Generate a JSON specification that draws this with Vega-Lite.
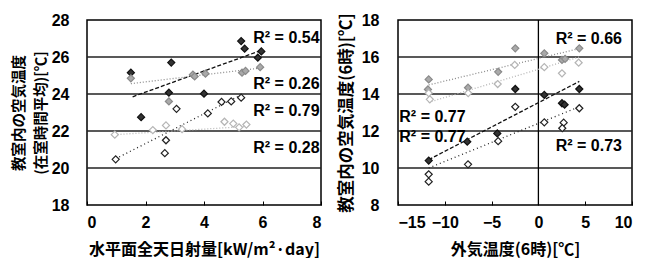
{
  "$schema": "https://vega.github.io/schema/vega-lite/v6.json",
  "padding": {"left": 10, "top": 11, "right": 0, "bottom": 0},
  "background": "white",
  "bounds": "flush",
  "spacing": 77,
  "config": {
    "view": {"stroke": "#000", "strokeWidth": 1.5},
    "font": "Liberation Sans",
    "axis": {
      "labelFont": "Liberation Sans", "labelFontSize": 16, "labelFontWeight": "bold", "labelColor": "#000", "labelOverlap": false,
      "titleFont": "Noto Sans CJK JP", "titleFontSize": 16, "titleFontWeight": "bold", "titleColor": "#000",
      "domain": false, "tickColor": "#000", "tickCount": 12, "format": "d"
    }
  },
  "datasets": {
    "lp": [
      {"x": 1.5, "y": 25.15, "s": "A"}, {"x": 2.88, "y": 25.7, "s": "A"}, {"x": 2.8, "y": 24.07, "s": "A"}, {"x": 4.0, "y": 24.02, "s": "A"}, {"x": 1.85, "y": 22.75, "s": "A"}, {"x": 5.27, "y": 26.86, "s": "A"}, {"x": 5.39, "y": 26.45, "s": "A"}, {"x": 5.96, "y": 26.3, "s": "A"}, {"x": 5.84, "y": 25.96, "s": "A"},
      {"x": 1.5, "y": 24.85, "s": "B"}, {"x": 2.8, "y": 23.6, "s": "B"}, {"x": 3.62, "y": 25.05, "s": "B"}, {"x": 3.68, "y": 24.95, "s": "B"}, {"x": 4.05, "y": 25.1, "s": "B"}, {"x": 5.3, "y": 25.15, "s": "B"}, {"x": 5.42, "y": 25.25, "s": "B"}, {"x": 5.92, "y": 25.45, "s": "B"},
      {"x": 0.98, "y": 20.47, "s": "C"}, {"x": 2.7, "y": 21.5, "s": "C"}, {"x": 2.66, "y": 20.8, "s": "C"}, {"x": 3.06, "y": 23.2, "s": "C"}, {"x": 4.13, "y": 22.95, "s": "C"}, {"x": 4.6, "y": 23.57, "s": "C"}, {"x": 4.93, "y": 23.6, "s": "C"}, {"x": 5.27, "y": 23.8, "s": "C"},
      {"x": 0.95, "y": 21.8, "s": "D"}, {"x": 2.25, "y": 22.05, "s": "D"}, {"x": 2.7, "y": 22.3, "s": "D"}, {"x": 3.25, "y": 22.1, "s": "D"}, {"x": 4.7, "y": 22.5, "s": "D"}, {"x": 5.0, "y": 22.4, "s": "D"}, {"x": 5.2, "y": 22.2, "s": "D"}, {"x": 5.45, "y": 22.35, "s": "D"}
    ],
    "lt": [
      {"x": 1.56, "y": 23.85, "s": "A"}, {"x": 5.96, "y": 26.36, "s": "A"},
      {"x": 1.5, "y": 24.56, "s": "B"}, {"x": 5.96, "y": 25.41, "s": "B"},
      {"x": 0.98, "y": 20.5, "s": "C"}, {"x": 5.27, "y": 23.95, "s": "C"},
      {"x": 0.94, "y": 21.8, "s": "D"}, {"x": 5.5, "y": 22.25, "s": "D"}
    ],
    "lg": [{"y": 20}, {"y": 22}, {"y": 24}, {"y": 26}],
    "lr": [
      {"x": 7.95, "y": 27.05, "t": "R² = 0.54"}, {"x": 7.95, "y": 24.55, "t": "R² = 0.26"}, {"x": 7.95, "y": 23.08, "t": "R² = 0.79"}, {"x": 7.95, "y": 21.1, "t": "R² = 0.28"}
    ],
    "rp": [
      {"x": -11.72, "y": 10.4, "s": "A"}, {"x": -7.6, "y": 11.42, "s": "A"}, {"x": -4.39, "y": 11.87, "s": "A"}, {"x": -2.47, "y": 14.27, "s": "A"}, {"x": 0.63, "y": 13.95, "s": "A"}, {"x": 2.52, "y": 13.5, "s": "A"}, {"x": 2.8, "y": 13.42, "s": "A"}, {"x": 4.37, "y": 14.27, "s": "A"},
      {"x": -11.72, "y": 14.79, "s": "B"}, {"x": -11.8, "y": 14.25, "s": "B"}, {"x": -7.52, "y": 14.34, "s": "B"}, {"x": -4.3, "y": 15.2, "s": "B"}, {"x": -2.47, "y": 16.47, "s": "B"}, {"x": 0.63, "y": 16.2, "s": "B"}, {"x": 2.52, "y": 15.84, "s": "B"}, {"x": 2.85, "y": 15.9, "s": "B"}, {"x": 4.37, "y": 16.47, "s": "B"},
      {"x": -11.72, "y": 9.66, "s": "C"}, {"x": -11.72, "y": 9.26, "s": "C"}, {"x": -7.52, "y": 10.2, "s": "C"}, {"x": -4.3, "y": 11.45, "s": "C"}, {"x": -2.47, "y": 13.31, "s": "C"}, {"x": 0.63, "y": 12.47, "s": "C"}, {"x": 2.7, "y": 12.45, "s": "C"}, {"x": 2.55, "y": 12.15, "s": "C"}, {"x": 4.37, "y": 13.23, "s": "C"},
      {"x": -11.6, "y": 13.71, "s": "D"}, {"x": -11.72, "y": 14.05, "s": "D"}, {"x": -7.5, "y": 14.05, "s": "D"}, {"x": -4.35, "y": 14.54, "s": "D"}, {"x": -2.53, "y": 15.57, "s": "D"}, {"x": 0.63, "y": 15.45, "s": "D"}, {"x": 2.52, "y": 15.12, "s": "D"}, {"x": 4.3, "y": 15.69, "s": "D"}
    ],
    "rt": [
      {"x": -11.72, "y": 10.45, "s": "A"}, {"x": 4.37, "y": 14.68, "s": "A"},
      {"x": -11.72, "y": 14.49, "s": "B"}, {"x": 4.49, "y": 16.47, "s": "B"},
      {"x": -11.72, "y": 10.0, "s": "C"}, {"x": 4.37, "y": 13.31, "s": "C"},
      {"x": -11.72, "y": 13.55, "s": "D"}, {"x": 4.37, "y": 16.0, "s": "D"}
    ],
    "rg": [{"y": 10}, {"y": 12}, {"y": 14}, {"y": 16}],
    "rrR": [
      {"x": 8.93, "y": 16.97, "t": "R² = 0.66"}, {"x": 8.93, "y": 11.19, "t": "R² = 0.73"}
    ],
    "rrL": [
      {"x": -14.86, "y": 12.77, "t": "R² = 0.77"}, {"x": -14.86, "y": 11.69, "t": "R² = 0.77"}
    ],
    "zero": [{"x": 0}]
  },
  "hconcat": [
    {
      "width": 234, "height": 185,
      "layer": [
        {
          "data": {"name": "lg"},
          "mark": {"type": "rule", "color": "#222", "strokeWidth": 1.3},
          "encoding": {
            "y": {"field": "y", "type": "quantitative", "scale": {"domain": [18, 28], "nice": false, "zero": false},
              "axis": {"values": [18, 20, 22, 24, 26, 28], "tickCount": 12, "grid": false, "ticks": false, "labelPadding": 18,
                "title": ["教室内の空気温度", "(在室時間平均)[℃]"], "titleFontSize": 14.5, "titlePadding": 3, "titleLineHeight": 22}}
          }
        },
        {
          "data": {"name": "lt"},
          "mark": {"type": "line", "strokeWidth": 1.3},
          "encoding": {
            "x": {"field": "x", "type": "quantitative", "scale": {"domain": [0, 8], "nice": false, "zero": false},
              "axis": {"values": [0, 2, 4, 6, 8], "tickCount": 12, "grid": false, "ticks": true, "tickSize": -4, "labelPadding": 13, "title": "水平面全天日射量[kW/m²·day]", "titlePadding": 11}},
            "y": {"field": "y", "type": "quantitative"},
            "detail": {"field": "s"},
            "stroke": {"field": "s", "type": "nominal", "legend": null, "scale": {"domain": ["A", "B", "C", "D"], "range": ["#111", "#8a8a8a", "#222", "#b5b5b5"]}},
            "strokeDash": {"field": "s", "type": "nominal", "legend": null, "scale": {"domain": ["A", "B", "C", "D"], "range": [[4, 2], [1, 2], [1, 3], [1, 2]]}}
          }
        },
        {
          "data": {"name": "lp"},
          "mark": {"type": "point", "shape": "diamond", "filled": false, "size": 50, "strokeWidth": 1.2, "opacity": 1},
          "encoding": {
            "x": {"field": "x", "type": "quantitative"},
            "y": {"field": "y", "type": "quantitative"},
            "fill": {"field": "s", "type": "nominal", "legend": null, "scale": {"domain": ["A", "B", "C", "D"], "range": ["#333", "#aaa", "#fff", "#fff"]}},
            "stroke": {"field": "s", "type": "nominal", "legend": null}
          }
        },
        {
          "data": {"name": "lr"},
          "mark": {"type": "text", "align": "right", "baseline": "middle", "fontSize": 16, "fontWeight": "bold", "font": "Liberation Sans", "color": "#000"},
          "encoding": {
            "x": {"field": "x", "type": "quantitative"},
            "y": {"field": "y", "type": "quantitative"},
            "text": {"field": "t"}
          }
        }
      ]
    },
    {
      "width": 234, "height": 185,
      "layer": [
        {
          "data": {"name": "rg"},
          "mark": {"type": "rule", "color": "#222", "strokeWidth": 1.3},
          "encoding": {
            "y": {"field": "y", "type": "quantitative", "scale": {"domain": [8, 18], "nice": false, "zero": false},
              "axis": {"values": [8, 10, 12, 14, 16, 18], "tickCount": 12, "grid": false, "ticks": false, "labelPadding": 19,
                "title": "教室内の空気温度(6時)[℃]", "titleFontSize": 16.5, "titlePadding": 7}}
          }
        },
        {
          "data": {"name": "zero"},
          "mark": {"type": "rule", "color": "#000", "strokeWidth": 1.3},
          "encoding": {
            "x": {"field": "x", "type": "quantitative", "scale": {"domain": [-15, 10], "nice": false, "zero": false},
              "axis": {"values": [-15, -10, -5, 0, 5, 10], "tickCount": 12, "grid": false, "ticks": true, "tickSize": -4, "labelPadding": 13, "title": "外気温度(6時)[℃]", "titlePadding": 11}}
          }
        },
        {
          "data": {"name": "rt"},
          "mark": {"type": "line", "strokeWidth": 1.3},
          "encoding": {
            "x": {"field": "x", "type": "quantitative"},
            "y": {"field": "y", "type": "quantitative"},
            "detail": {"field": "s"},
            "stroke": {"field": "s", "type": "nominal", "legend": null, "scale": {"domain": ["A", "B", "C", "D"], "range": ["#111", "#8a8a8a", "#222", "#b5b5b5"]}},
            "strokeDash": {"field": "s", "type": "nominal", "legend": null, "scale": {"domain": ["A", "B", "C", "D"], "range": [[4, 2], [1, 2], [1, 3], [1, 2]]}}
          }
        },
        {
          "data": {"name": "rp"},
          "mark": {"type": "point", "shape": "diamond", "filled": false, "size": 50, "strokeWidth": 1.2, "opacity": 1},
          "encoding": {
            "x": {"field": "x", "type": "quantitative"},
            "y": {"field": "y", "type": "quantitative"},
            "fill": {"field": "s", "type": "nominal", "legend": null, "scale": {"domain": ["A", "B", "C", "D"], "range": ["#333", "#aaa", "#fff", "#fff"]}},
            "stroke": {"field": "s", "type": "nominal", "legend": null}
          }
        },
        {
          "data": {"name": "rrR"},
          "mark": {"type": "text", "align": "right", "baseline": "middle", "fontSize": 16, "fontWeight": "bold", "font": "Liberation Sans", "color": "#000"},
          "encoding": {
            "x": {"field": "x", "type": "quantitative"},
            "y": {"field": "y", "type": "quantitative"},
            "text": {"field": "t"}
          }
        },
        {
          "data": {"name": "rrL"},
          "mark": {"type": "text", "align": "left", "baseline": "middle", "fontSize": 16, "fontWeight": "bold", "font": "Liberation Sans", "color": "#000"},
          "encoding": {
            "x": {"field": "x", "type": "quantitative"},
            "y": {"field": "y", "type": "quantitative"},
            "text": {"field": "t"}
          }
        }
      ]
    }
  ]
}
